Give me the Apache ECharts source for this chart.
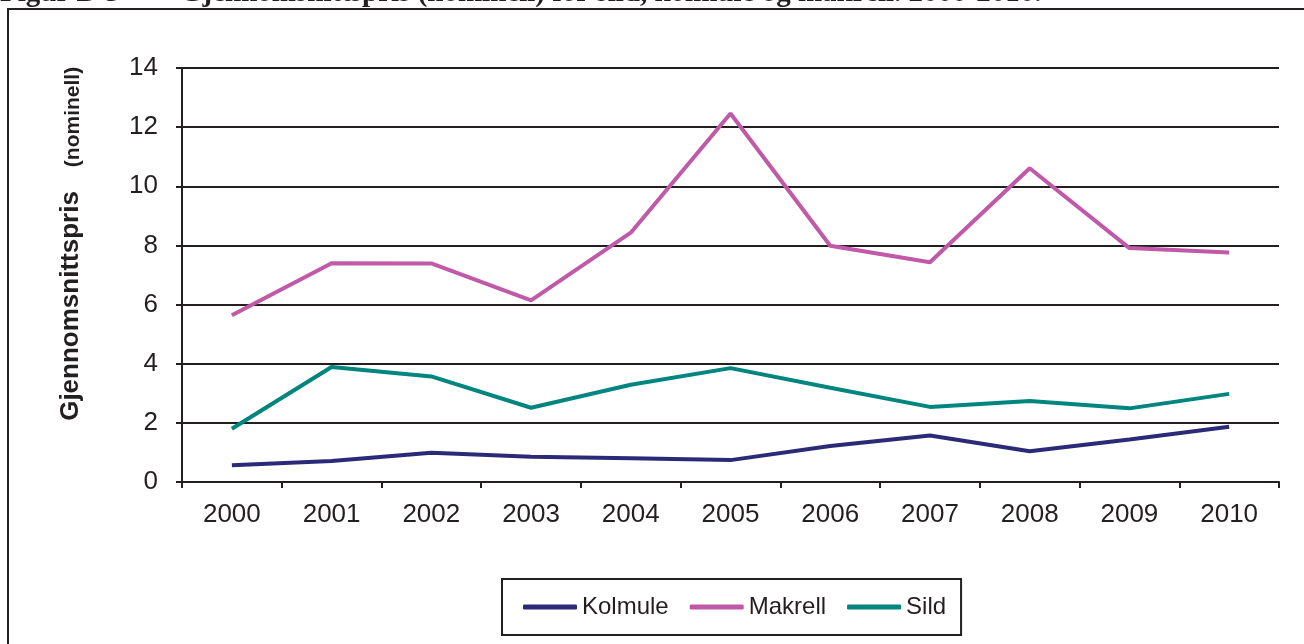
<!DOCTYPE html>
<html><head><meta charset="utf-8">
<script src="https://cdn.jsdelivr.net/npm/echarts@6/dist/echarts.min.js"></script>
<style>html,body{margin:0;padding:0;background:#fff;}#c{width:1304px;height:644px;}</style>
</head><body><div id="c"></div>
<script>
var categories = ['2000','2001','2002','2003','2004','2005','2006','2007','2008','2009','2010'];
var kolmule = [0.57, 0.71, 0.99, 0.85, 0.80, 0.74, 1.22, 1.57, 1.04, 1.44, 1.87];
var makrell = [5.64, 7.40, 7.39, 6.14, 8.43, 12.46, 7.99, 7.43, 10.61, 7.91, 7.76];
var sild = [1.80, 3.89, 3.57, 2.51, 3.29, 3.85, 3.19, 2.54, 2.74, 2.49, 2.98];
var seriesNames = ['Kolmule', 'Makrell', 'Sild'];
var titleLabel = 'Figur B-3';
var titleText = 'Gjennomsnittspris (nominell) for sild, kolmule og makrell. 2000-2010.';
var yName1 = 'Gjennomsnittspris';
var yName2 = '(nominell)';

var dark = '#231f20';
var chart = echarts.init(document.getElementById('c'));
function mk(name, data, color) {
  return {name: name, type: 'line', data: data, symbol: 'none', showSymbol: false,
    lineStyle: {width: 4, color: color}, itemStyle: {color: color}, silent: true};
}
chart.setOption({
  animation: false,
  backgroundColor: '#fff',
  grid: {left: 182, right: 25, top: 68, bottom: 162, containLabel: false},
  xAxis: {
    type: 'category', data: categories, boundaryGap: true,
    axisLine: {lineStyle: {color: dark, width: 2}},
    axisTick: {show: true, length: 6, lineStyle: {color: dark, width: 2}},
    axisLabel: {color: dark, fontFamily: 'Liberation Sans', fontSize: 26, margin: 20}
  },
  yAxis: {
    type: 'value', min: 0, max: 14, interval: 2,
    axisLine: {show: true, lineStyle: {color: dark, width: 2}},
    axisTick: {show: true, length: 6, lineStyle: {color: dark, width: 2}},
    axisLabel: {color: dark, fontFamily: 'Liberation Sans', fontSize: 26, margin: 24},
    splitLine: {show: true, lineStyle: {color: dark, width: 2}}
  },
  legend: {
    data: seriesNames, left: 502, top: 579,
    padding: [15, 15, 15, 21], itemGap: 21, itemWidth: 54, itemHeight: 5,
    icon: 'roundRect',
    borderColor: dark, borderWidth: 2, backgroundColor: '#fff',
    textStyle: {color: dark, fontFamily: 'Liberation Sans', fontSize: 24, lineHeight: 26},
    selectedMode: false
  },
  graphic: [
    {type: 'rect', shape: {x: 8, y: 9, width: 1310, height: 650}, style: {fill: 'none', stroke: dark, lineWidth: 2}, silent: true, z: -1},
    {type: 'text', x: 0, y: 8, style: {text: titleLabel, font: 'bold 29px "Liberation Serif"', fill: dark, verticalAlign: 'bottom', align: 'left'}, silent: true},
    {type: 'text', x: 180, y: 8, style: {text: titleText, font: 'bold 29px "Liberation Serif"', fill: dark, verticalAlign: 'bottom', align: 'left'}, silent: true},
    {type: 'text', x: 71, y: 306, rotation: Math.PI / 2, style: {text: yName1, font: 'bold 26px "Liberation Sans"', fill: dark, align: 'center', verticalAlign: 'middle'}, silent: true},
    {type: 'text', x: 73, y: 117, rotation: Math.PI / 2, style: {text: yName2, font: 'bold 21px "Liberation Sans"', fill: dark, align: 'center', verticalAlign: 'middle'}, silent: true}
  ],
  series: [
    mk(seriesNames[0], kolmule, '#2b2a78'),
    mk(seriesNames[1], makrell, '#c059a8'),
    mk(seriesNames[2], sild, '#00857f')
  ]
});
</script></body></html>
